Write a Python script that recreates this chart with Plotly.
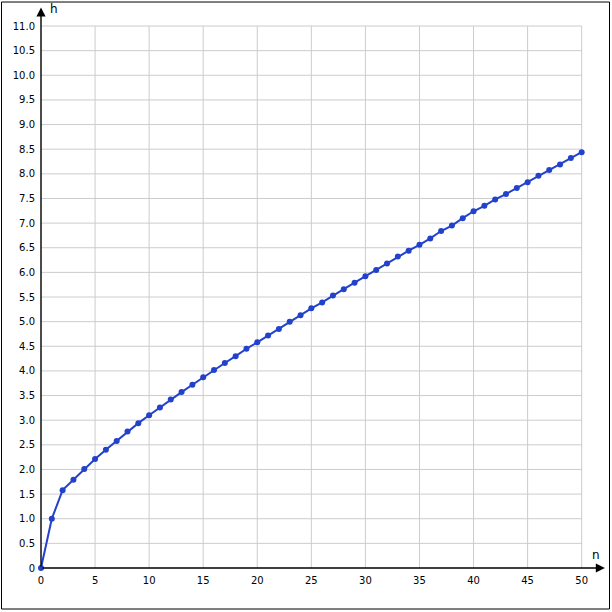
import plotly.graph_objects as go

n_values = list(range(0, 51))
h_values = [0, 1.0, 1.58, 1.79, 2.01, 2.21, 2.40, 2.58, 2.77, 2.94,
            3.10, 3.26, 3.42, 3.57, 3.72, 3.87, 4.02, 4.16, 4.30, 4.45,
            4.58, 4.72, 4.85, 5.00, 5.13, 5.27, 5.39, 5.53, 5.66, 5.79,
            5.92, 6.05, 6.18, 6.32, 6.44, 6.56, 6.69, 6.84, 6.95, 7.10,
            7.24, 7.35, 7.48, 7.59, 7.71, 7.83, 7.96, 8.08, 8.19, 8.32, 8.44]

x_ticks = list(range(0, 55, 5))
x_tick_labels = [str(v) for v in x_ticks]
y_ticks = [i * 0.5 for i in range(0, 23)]
y_tick_labels = ["0"] + [f"{v:.1f}" for v in y_ticks[1:]]

X_MAX = 52.25
Y_MAX = 11.447
FONT = dict(family="DejaVu Sans", size=10, color="#000000")

fig = go.Figure()
fig.add_trace(go.Scatter(
    x=n_values, y=h_values, mode="lines+markers",
    line=dict(color="#2342cc", width=2),
    marker=dict(color="#2342cc", size=6),
    cliponaxis=False, hoverinfo="skip", showlegend=False,
))

shapes = []
for v in x_ticks[1:]:
    shapes.append(dict(type="line", xref="x", yref="y", x0=v, x1=v, y0=0, y1=y_ticks[-1],
                       line=dict(color="#cccccc", width=1), layer="below"))
for v in y_ticks[1:]:
    shapes.append(dict(type="line", xref="x", yref="y", x0=0, x1=x_ticks[-1], y0=v, y1=v,
                       line=dict(color="#cccccc", width=1), layer="below"))
# outer frame
shapes.append(dict(type="rect", xref="paper", yref="paper",
                   x0=-0.0699, x1=1.0062, y0=-0.0727, y1=1.0035,
                   line=dict(color="#000000", width=1), fillcolor="rgba(0,0,0,0)"))

annotations = [
    dict(x=52.15, y=0, ax=0, ay=0, xref="x", yref="y", axref="x", ayref="y",
         showarrow=True, arrowhead=2, arrowsize=1.3, arrowwidth=1.4, arrowcolor="#000000",
         standoff=0, startstandoff=0, text=""),
    dict(x=0, y=11.376, ax=0, ay=0, xref="x", yref="y", axref="x", ayref="y",
         showarrow=True, arrowhead=2, arrowsize=1.3, arrowwidth=1.4, arrowcolor="#000000",
         standoff=0, startstandoff=0, text=""),
    dict(x=1.2, y=11.35, xref="x", yref="y", text="h", showarrow=False,
         font=dict(family="DejaVu Sans", size=12, color="#000000")),
    dict(x=51.34, y=0.27, xref="x", yref="y", text="n", showarrow=False,
         font=dict(family="DejaVu Sans", size=12, color="#000000")),
]

fig.update_layout(
    width=612, height=612,
    margin=dict(l=41, r=6, t=4, b=44),
    paper_bgcolor="#ffffff", plot_bgcolor="#ffffff",
    shapes=shapes, annotations=annotations,
    font=FONT,
    xaxis=dict(range=[0, X_MAX], showgrid=False, zeroline=False, showline=False,
               tickmode="array", tickvals=x_ticks, ticktext=x_tick_labels,
               ticks="outside", ticklen=3, tickcolor="rgba(0,0,0,0)",
               tickfont=FONT, fixedrange=True, automargin=False),
    yaxis=dict(range=[0, Y_MAX], showgrid=False, zeroline=False, showline=False,
               tickmode="array", tickvals=y_ticks, ticktext=y_tick_labels,
               ticks="outside", ticklen=3, tickcolor="rgba(0,0,0,0)",
               tickfont=FONT, fixedrange=True, automargin=False),
)

fig.write_html("out.html", config={"displayModeBar": False},
               post_script="document.body.style.margin='0';document.body.style.padding='0';")
